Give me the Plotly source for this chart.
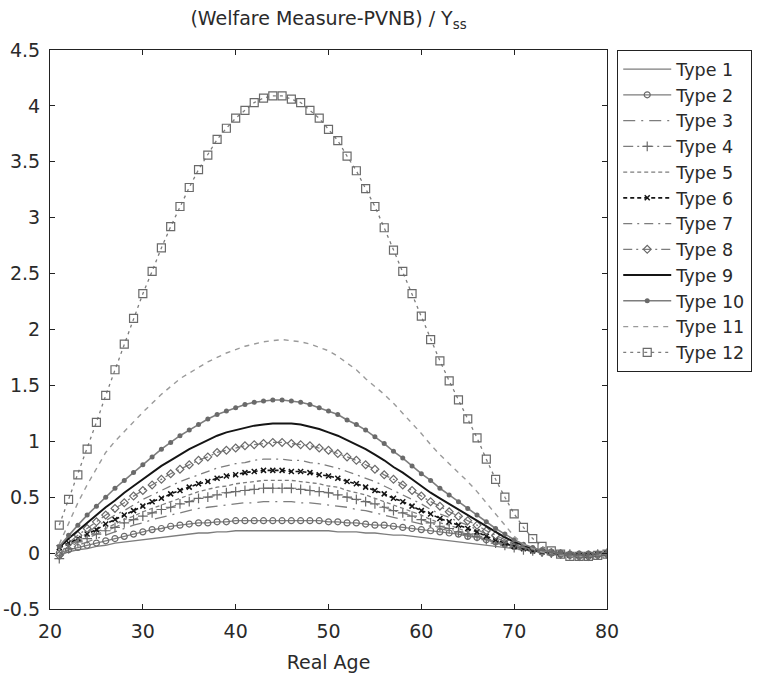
import plotly.graph_objects as go

AGES = list(range(21, 81))

TYPE_NAMES = ["Type 1", "Type 2", "Type 3", "Type 4", "Type 5", "Type 6",
              "Type 7", "Type 8", "Type 9", "Type 10", "Type 11", "Type 12"]

T1 = [-0.02, 0.01, 0.03, 0.04, 0.06, 0.07, 0.09, 0.10, 0.11, 0.12,
      0.13, 0.14, 0.15, 0.16, 0.17, 0.18, 0.18, 0.19, 0.19, 0.20,
      0.20, 0.20, 0.20, 0.20, 0.20, 0.20, 0.20, 0.20, 0.20, 0.20,
      0.19, 0.19, 0.19, 0.18, 0.18, 0.17, 0.16, 0.16, 0.15, 0.14,
      0.13, 0.12, 0.11, 0.10, 0.09, 0.08, 0.07, 0.06, 0.05, 0.04,
      0.03, 0.02, 0.01, 0.0, -0.01, -0.01, -0.01, -0.01, -0.01, 0.0]
T2 = [0.0, 0.03, 0.05, 0.07, 0.09, 0.11, 0.13, 0.15, 0.17, 0.19,
      0.21, 0.22, 0.24, 0.25, 0.26, 0.27, 0.27, 0.28, 0.28, 0.29,
      0.29, 0.29, 0.29, 0.29, 0.29, 0.29, 0.29, 0.29, 0.29, 0.28,
      0.28, 0.27, 0.27, 0.26, 0.25, 0.25, 0.24, 0.23, 0.22, 0.21,
      0.20, 0.19, 0.18, 0.17, 0.15, 0.14, 0.12, 0.10, 0.08, 0.06,
      0.05, 0.03, 0.02, 0.01, 0.0, -0.01, -0.01, -0.01, -0.01, 0.0]
T3 = [-0.04, 0.03, 0.07, 0.10, 0.13, 0.16, 0.19, 0.22, 0.25, 0.27,
      0.30, 0.32, 0.34, 0.36, 0.38, 0.40, 0.41, 0.42, 0.43, 0.44,
      0.45, 0.45, 0.46, 0.46, 0.46, 0.46, 0.45, 0.45, 0.44, 0.43,
      0.42, 0.41, 0.39, 0.38, 0.36, 0.34, 0.32, 0.30, 0.28, 0.26,
      0.24, 0.22, 0.20, 0.18, 0.16, 0.14, 0.12, 0.10, 0.07, 0.05,
      0.03, 0.02, 0.01, 0.0, -0.01, -0.01, -0.02, -0.02, -0.01, 0.0]
T4 = [-0.05, 0.04, 0.10, 0.13, 0.17, 0.20, 0.23, 0.27, 0.30, 0.33,
      0.36, 0.39, 0.41, 0.44, 0.46, 0.49, 0.50, 0.52, 0.54, 0.55,
      0.56, 0.57, 0.58, 0.58, 0.58, 0.58, 0.57, 0.56, 0.55, 0.54,
      0.52, 0.50, 0.48, 0.46, 0.44, 0.41, 0.38, 0.36, 0.33, 0.30,
      0.27, 0.24, 0.22, 0.19, 0.17, 0.15, 0.12, 0.09, 0.07, 0.05,
      0.03, 0.02, 0.01, 0.0, -0.01, -0.01, -0.02, -0.02, -0.01, 0.0]
T5 = [0.04, 0.08, 0.11, 0.15, 0.19, 0.22, 0.26, 0.30, 0.33, 0.37,
      0.40, 0.43, 0.46, 0.49, 0.52, 0.55, 0.57, 0.59, 0.60, 0.62,
      0.63, 0.64, 0.65, 0.65, 0.65, 0.65, 0.64, 0.63, 0.62, 0.60,
      0.59, 0.56, 0.54, 0.52, 0.49, 0.46, 0.43, 0.40, 0.37, 0.34,
      0.30, 0.27, 0.25, 0.22, 0.19, 0.16, 0.13, 0.10, 0.08, 0.06,
      0.04, 0.02, 0.01, 0.0, -0.01, -0.01, -0.02, -0.02, -0.01, 0.0]
T6 = [0.05, 0.09, 0.13, 0.17, 0.21, 0.26, 0.30, 0.34, 0.38, 0.42,
      0.46, 0.49, 0.53, 0.56, 0.59, 0.62, 0.64, 0.67, 0.69, 0.70,
      0.72, 0.73, 0.74, 0.74, 0.74, 0.73, 0.73, 0.72, 0.70, 0.69,
      0.67, 0.64, 0.62, 0.59, 0.56, 0.53, 0.49, 0.46, 0.42, 0.38,
      0.35, 0.31, 0.28, 0.25, 0.22, 0.19, 0.15, 0.12, 0.09, 0.06,
      0.04, 0.02, 0.01, 0.0, -0.01, -0.02, -0.02, -0.02, -0.01, 0.0]
T7 = [-0.06, 0.06, 0.12, 0.18, 0.24, 0.29, 0.34, 0.38, 0.43, 0.48,
      0.52, 0.56, 0.60, 0.64, 0.67, 0.70, 0.73, 0.76, 0.78, 0.80,
      0.81, 0.83, 0.84, 0.84, 0.84, 0.83, 0.83, 0.81, 0.80, 0.78,
      0.76, 0.73, 0.70, 0.67, 0.64, 0.60, 0.56, 0.52, 0.48, 0.44,
      0.39, 0.35, 0.32, 0.28, 0.25, 0.21, 0.17, 0.14, 0.10, 0.07,
      0.05, 0.03, 0.01, 0.0, -0.01, -0.02, -0.02, -0.02, -0.01, 0.0]
T8 = [-0.02, 0.09, 0.16, 0.22, 0.28, 0.34, 0.40, 0.45, 0.51, 0.56,
      0.61, 0.66, 0.71, 0.75, 0.79, 0.83, 0.86, 0.90, 0.92, 0.94,
      0.96, 0.97, 0.98, 0.99, 0.99, 0.98, 0.97, 0.96, 0.94, 0.92,
      0.89, 0.86, 0.83, 0.79, 0.75, 0.70, 0.66, 0.61, 0.56, 0.51,
      0.46, 0.42, 0.37, 0.33, 0.29, 0.25, 0.20, 0.16, 0.12, 0.08,
      0.05, 0.03, 0.01, 0.0, -0.01, -0.02, -0.03, -0.03, -0.02, -0.01]
T9 = [0.05, 0.13, 0.20, 0.27, 0.34, 0.41, 0.47, 0.54, 0.60, 0.66,
      0.72, 0.78, 0.83, 0.88, 0.93, 0.97, 1.01, 1.05, 1.08, 1.10,
      1.12, 1.14, 1.15, 1.16, 1.16, 1.16, 1.15, 1.13, 1.11, 1.08,
      1.05, 1.01, 0.97, 0.93, 0.88, 0.83, 0.77, 0.72, 0.66, 0.60,
      0.54, 0.49, 0.44, 0.39, 0.34, 0.29, 0.24, 0.19, 0.14, 0.10,
      0.07, 0.04, 0.02, 0.0, -0.01, -0.02, -0.03, -0.03, -0.02, -0.01]
T10 = [0.06, 0.16, 0.25, 0.34, 0.42, 0.50, 0.58, 0.65, 0.72, 0.79,
       0.86, 0.93, 0.99, 1.05, 1.10, 1.15, 1.20, 1.24, 1.27, 1.30,
       1.33, 1.35, 1.36, 1.37, 1.37, 1.36, 1.35, 1.33, 1.30, 1.27,
       1.24, 1.19, 1.15, 1.10, 1.04, 0.98, 0.91, 0.85, 0.78, 0.71,
       0.65, 0.58, 0.52, 0.46, 0.40, 0.34, 0.28, 0.22, 0.17, 0.12,
       0.08, 0.05, 0.02, 0.01, -0.01, -0.02, -0.03, -0.03, -0.02, -0.01]
T11 = [0.08, 0.27, 0.45, 0.61, 0.76, 0.90, 1.00, 1.09, 1.18, 1.26,
       1.34, 1.42, 1.49, 1.56, 1.61, 1.66, 1.71, 1.75, 1.79, 1.82,
       1.85, 1.87, 1.89, 1.90, 1.91, 1.90, 1.89, 1.87, 1.84, 1.81,
       1.76, 1.70, 1.64, 1.56, 1.49, 1.42, 1.34, 1.25, 1.16, 1.07,
       0.97, 0.88, 0.80, 0.72, 0.64, 0.55, 0.45, 0.34, 0.24, 0.15,
       0.08, 0.04, 0.01, -0.01, -0.02, -0.03, -0.03, -0.03, -0.02, 0.0]
T12 = [0.25, 0.48, 0.70, 0.93, 1.17, 1.41, 1.64, 1.87, 2.10, 2.32,
       2.52, 2.73, 2.92, 3.10, 3.27, 3.43, 3.56, 3.70, 3.80, 3.89,
       3.96, 4.03, 4.07, 4.09, 4.09, 4.06, 4.03, 3.96, 3.89, 3.79,
       3.69, 3.55, 3.42, 3.26, 3.10, 2.91, 2.71, 2.52, 2.32, 2.12,
       1.91, 1.72, 1.54, 1.37, 1.20, 1.03, 0.84, 0.66, 0.50, 0.35,
       0.23, 0.13, 0.06, 0.02, -0.01, -0.03, -0.03, -0.03, -0.02, -0.01]

SERIES = [T1, T2, T3, T4, T5, T6, T7, T8, T9, T10, T11, T12]

X_TICKS = [20, 30, 40, 50, 60, 70, 80]
X_TICK_TEXT = ["20", "30", "40", "50", "60", "70", "80"]
Y_TICKS = [-0.5, 0, 0.5, 1, 1.5, 2, 2.5, 3, 3.5, 4, 4.5]
Y_TICK_TEXT = ["-0.5", "0", "0.5", "1", "1.5", "2", "2.5", "3", "3.5", "4", "4.5"]

GRAY = "#7d7d7d"
LGRAY = "#9a9a9a"
DARK = "#6a6a6a"
BLACK = "#151515"

STYLES = [
    dict(line=dict(color=GRAY, width=1.3, dash="solid"), mode="lines"),
    dict(line=dict(color=GRAY, width=1.3, dash="solid"), mode="lines+markers",
         marker=dict(symbol="circle-open", size=6, color=DARK, line=dict(width=1.2, color=DARK))),
    dict(line=dict(color=GRAY, width=1.3, dash="12px,6px,2px,6px"), mode="lines"),
    dict(line=dict(color=GRAY, width=1.3, dash="10px,4px,2px,4px"), mode="lines+markers",
         marker=dict(symbol="cross-thin-open", size=7, color=DARK, line=dict(width=1.2, color=DARK))),
    dict(line=dict(color=GRAY, width=1.3, dash="4px,3px"), mode="lines"),
    dict(line=dict(color=BLACK, width=1.6, dash="4px,3px"), mode="lines+markers",
         marker=dict(symbol="x-thin-open", size=5, color=BLACK, line=dict(width=1.5, color=BLACK))),
    dict(line=dict(color=GRAY, width=1.3, dash="9px,5px,2px,5px"), mode="lines"),
    dict(line=dict(color=GRAY, width=1.3, dash="9px,4px,2px,4px"), mode="lines+markers",
         marker=dict(symbol="diamond-open", size=6, color=DARK, line=dict(width=1.2, color=DARK))),
    dict(line=dict(color=BLACK, width=2.0, dash="solid"), mode="lines"),
    dict(line=dict(color=GRAY, width=1.6, dash="solid"), mode="lines+markers",
         marker=dict(symbol="circle", size=5, color=DARK)),
    dict(line=dict(color=LGRAY, width=1.4, dash="5px,5px"), mode="lines"),
    dict(line=dict(color=GRAY, width=1.3, dash="3px,4px"), mode="lines+markers",
         marker=dict(symbol="square-open", size=8, color=DARK, line=dict(width=1.2, color=DARK))),
]

fig = go.Figure()
for name, ys, st in zip(TYPE_NAMES, SERIES, STYLES):
    fig.add_trace(go.Scatter(x=AGES, y=ys, name=name, **st))

FONT = "DejaVu Sans, Liberation Sans, Arial, sans-serif"
TXT = "#2a2a2a"
axis_common = dict(
    showline=True, linecolor="#222222", linewidth=1.2, mirror="ticks",
    ticks="inside", ticklen=5, tickcolor="#222222", showgrid=False, zeroline=False,
    automargin=False,
    tickfont=dict(family=FONT, size=19, color=TXT),
)

fig.update_layout(
    width=766, height=674,
    paper_bgcolor="white", plot_bgcolor="white",
    margin=dict(l=50, r=159, t=50, b=65, autoexpand=False),
    font=dict(family=FONT, size=19, color=TXT),
    title=dict(text="(Welfare Measure-PVNB) / Y<sub>ss</sub>", x=(50 + 557 / 2) / 766, xanchor="center",
               y=1 - 18 / 674, yanchor="middle", yref="container",
               font=dict(family=FONT, size=19, color=TXT)),
    xaxis=dict(range=[20, 80], tickvals=X_TICKS, ticktext=X_TICK_TEXT, ticklabelstandoff=5,
               title=dict(text="Real Age", font=dict(family=FONT, size=19, color=TXT), standoff=14),
               **axis_common),
    yaxis=dict(range=[-0.5, 4.5], tickvals=Y_TICKS, ticktext=Y_TICK_TEXT, ticklabelstandoff=5,
               **axis_common),
    legend=dict(x=1.018, y=1, xanchor="left", yanchor="top",
                bordercolor="#222222", borderwidth=1.2, bgcolor="white",
                font=dict(family=FONT, size=17.5, color=TXT),
                tracegroupgap=0, itemwidth=48),
    showlegend=True,
)

fig.write_html("out.html", config={"displayModeBar": False},
               post_script="document.body.style.margin='0px';")
